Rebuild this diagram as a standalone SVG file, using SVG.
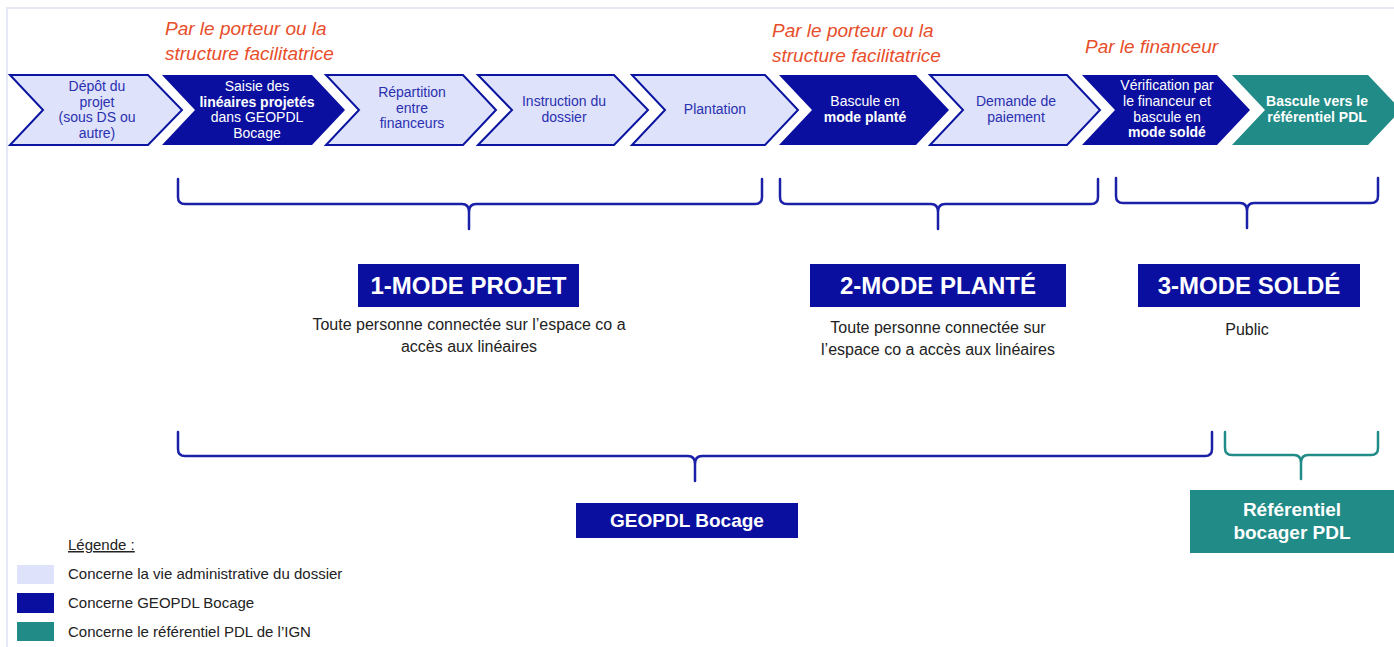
<svg xmlns="http://www.w3.org/2000/svg" width="1394" height="647" viewBox="0 0 1394 647">
<style>
.light{fill:#dfe2fb;stroke:#0a14a0;stroke-width:2;stroke-linejoin:miter}
.dark{fill:#0a0fa0}
.teal{fill:#218b87}
.lt{font-family:"Liberation Sans",Arial,sans-serif;font-size:14px;fill:#2a30b0;text-anchor:middle}
.dt{font-family:"Liberation Sans",Arial,sans-serif;font-size:14px;fill:#ffffff;text-anchor:middle}
.b{font-weight:bold}
.or{font-family:"Liberation Sans",Arial,sans-serif;font-size:19px;font-style:italic;fill:#e84e2b}
.brace{fill:none;stroke:#1a20a8;stroke-width:2.5;stroke-linejoin:round;stroke-linecap:round}
.braceT{fill:none;stroke:#218b87;stroke-width:2.5;stroke-linejoin:round;stroke-linecap:round}
.title{font-family:"Liberation Sans",Arial,sans-serif;font-size:24px;font-weight:bold;fill:#ffffff;text-anchor:middle}
.sub{font-family:"Liberation Sans",Arial,sans-serif;font-size:16px;fill:#222222;text-anchor:middle}
.box2{font-family:"Liberation Sans",Arial,sans-serif;font-size:19px;font-weight:bold;fill:#ffffff;text-anchor:middle}
.leg{font-family:"Liberation Sans",Arial,sans-serif;font-size:15px;fill:#222222}
</style>
<rect x="0" y="0" width="1394" height="647" fill="#ffffff"/>
<path d="M7,647 L7,8 L1394,8" fill="none" stroke="#e6e8f8" stroke-width="2"/>

<g id="orange-labels">
<text class="or" x="165" y="35">Par le porteur ou la</text>
<text class="or" x="165" y="60">structure facilitatrice</text>
<text class="or" x="772" y="37">Par le porteur ou la</text>
<text class="or" x="772" y="62">structure facilitatrice</text>
<text class="or" x="1085" y="53">Par le financeur</text>
</g>

<g id="step1">
<path class="light" d="M10,75 L148,75 L182,110 L148,145 L10,145 L43,110 Z"/>
<text class="lt" x="97" y="91">Dépôt du</text>
<text class="lt" x="97" y="106.5">projet</text>
<text class="lt" x="97" y="122">(sous DS ou</text>
<text class="lt" x="97" y="137.5">autre)</text>
</g>
<g id="step2">
<path class="dark" d="M162,75 L312,75 L345,110 L312,145 L162,145 L195,110 Z"/>
<text class="dt" x="257" y="91">Saisie des</text>
<text class="dt b" x="257" y="106.5" font-size="12.5">linéaires projetés</text>
<text class="dt" x="257" y="122">dans GEOPDL</text>
<text class="dt" x="257" y="137.5">Bocage</text>
</g>
<g id="step3">
<path class="light" d="M326,75 L463,75 L496,110 L463,145 L326,145 L359,110 Z"/>
<text class="lt" x="412" y="97">Répartition</text>
<text class="lt" x="412" y="113">entre</text>
<text class="lt" x="412" y="128">financeurs</text>
</g>
<g id="step4">
<path class="light" d="M478,75 L614,75 L648,110 L614,145 L478,145 L512,110 Z"/>
<text class="lt" x="564" y="106">Instruction du</text>
<text class="lt" x="564" y="122">dossier</text>
</g>
<g id="step5">
<path class="light" d="M632,75 L765,75 L798,110 L765,145 L632,145 L665,110 Z"/>
<text class="lt" x="715" y="114">Plantation</text>
</g>
<g id="step6">
<path class="dark" d="M779,75 L916,75 L949,110 L916,145 L779,145 L812,110 Z"/>
<text class="dt" x="865" y="106">Bascule en</text>
<text class="dt b" x="865" y="122" font-size="13">mode planté</text>
</g>
<g id="step7">
<path class="light" d="M930,75 L1067,75 L1100,110 L1067,145 L930,145 L963,110 Z"/>
<text class="lt" x="1016" y="106">Demande de</text>
<text class="lt" x="1016" y="122">paiement</text>
</g>
<g id="step8">
<path class="dark" d="M1082,75 L1217,75 L1250,110 L1217,145 L1082,145 L1115,110 Z"/>
<text class="dt" x="1167" y="90">Vérification par</text>
<text class="dt" x="1167" y="105.5">le financeur et</text>
<text class="dt" x="1167" y="121.5">bascule en</text>
<text class="dt b" x="1167" y="137" font-size="13">mode soldé</text>
</g>
<g id="step9">
<path class="teal" d="M1232,75 L1368,75 L1401,110 L1368,145 L1232,145 L1265,110 Z"/>
<text class="dt b" x="1317" y="106" font-size="13">Bascule vers le</text>
<text class="dt b" x="1317" y="122" font-size="13">référentiel PDL</text>
</g>

<g id="connectors">
<path class="brace" d="M178,179 L178,197 Q178,204 185,204 L462,204 Q469,204 469,212 L469,229 M469,212 Q469,204 476,204 L755,204 Q762,204 762,197 L762,179"/>
<path class="brace" d="M780,179 L780,197 Q780,204 787,204 L931,204 Q938,204 938,212 L938,229 M938,212 Q938,204 945,204 L1091,204 Q1098,204 1098,197 L1098,179"/>
<path class="brace" d="M1116,178 L1116,196 Q1116,203 1123,203 L1240,203 Q1247,203 1247,211 L1247,228 M1247,211 Q1247,203 1254,203 L1371,203 Q1378,203 1378,196 L1378,178"/>
<path class="brace" d="M178,432 L178,449 Q178,456 185,456 L688,456 Q695,456 695,464 L695,481 M695,464 Q695,456 702,456 L1205,456 Q1212,456 1212,449 L1212,432"/>
<path class="braceT" d="M1225,432 L1225,448 Q1225,455 1232,455 L1294,455 Q1301,455 1301,463 L1301,479 M1301,463 Q1301,455 1308,455 L1371,455 Q1378,455 1378,448 L1378,432"/>
</g>

<g id="mode1">
<rect class="dark" x="358" y="264" width="221" height="43"/>
<text class="title" x="468.5" y="294">1-MODE PROJET</text>
<text class="sub" x="469" y="330">Toute personne connectée sur l’espace co a</text>
<text class="sub" x="469" y="352">accès aux linéaires</text>
</g>
<g id="mode2">
<rect class="dark" x="810" y="264" width="256" height="43"/>
<text class="title" x="938" y="294">2-MODE PLANTÉ</text>
<text class="sub" x="938" y="333">Toute personne connectée sur</text>
<text class="sub" x="938" y="355">l’espace co a accès aux linéaires</text>
</g>
<g id="mode3">
<rect class="dark" x="1138" y="264" width="222" height="43"/>
<text class="title" x="1249" y="294">3-MODE SOLDÉ</text>
<text class="sub" x="1247" y="335">Public</text>
</g>

<g id="geopdl">
<rect class="dark" x="576" y="503" width="222" height="35"/>
<text class="box2" x="687" y="527" font-size="18">GEOPDL Bocage</text>
</g>
<g id="referentiel">
<rect class="teal" x="1190" y="490" width="204" height="63"/>
<text class="box2" x="1292" y="516">Référentiel</text>
<text class="box2" x="1292" y="539">bocager PDL</text>
</g>

<g id="legend">
<text class="leg" x="68" y="550" text-decoration="underline">Légende :</text>
<rect x="17" y="565" width="37" height="19" fill="#dfe2fb"/>
<text class="leg" x="68" y="579">Concerne la vie administrative du dossier</text>
<rect class="dark" x="17" y="593" width="37" height="20"/>
<text class="leg" x="68" y="608">Concerne GEOPDL Bocage</text>
<rect class="teal" x="17" y="622" width="37" height="19"/>
<text class="leg" x="68" y="637">Concerne le référentiel PDL de l’IGN</text>
</g>
</svg>
